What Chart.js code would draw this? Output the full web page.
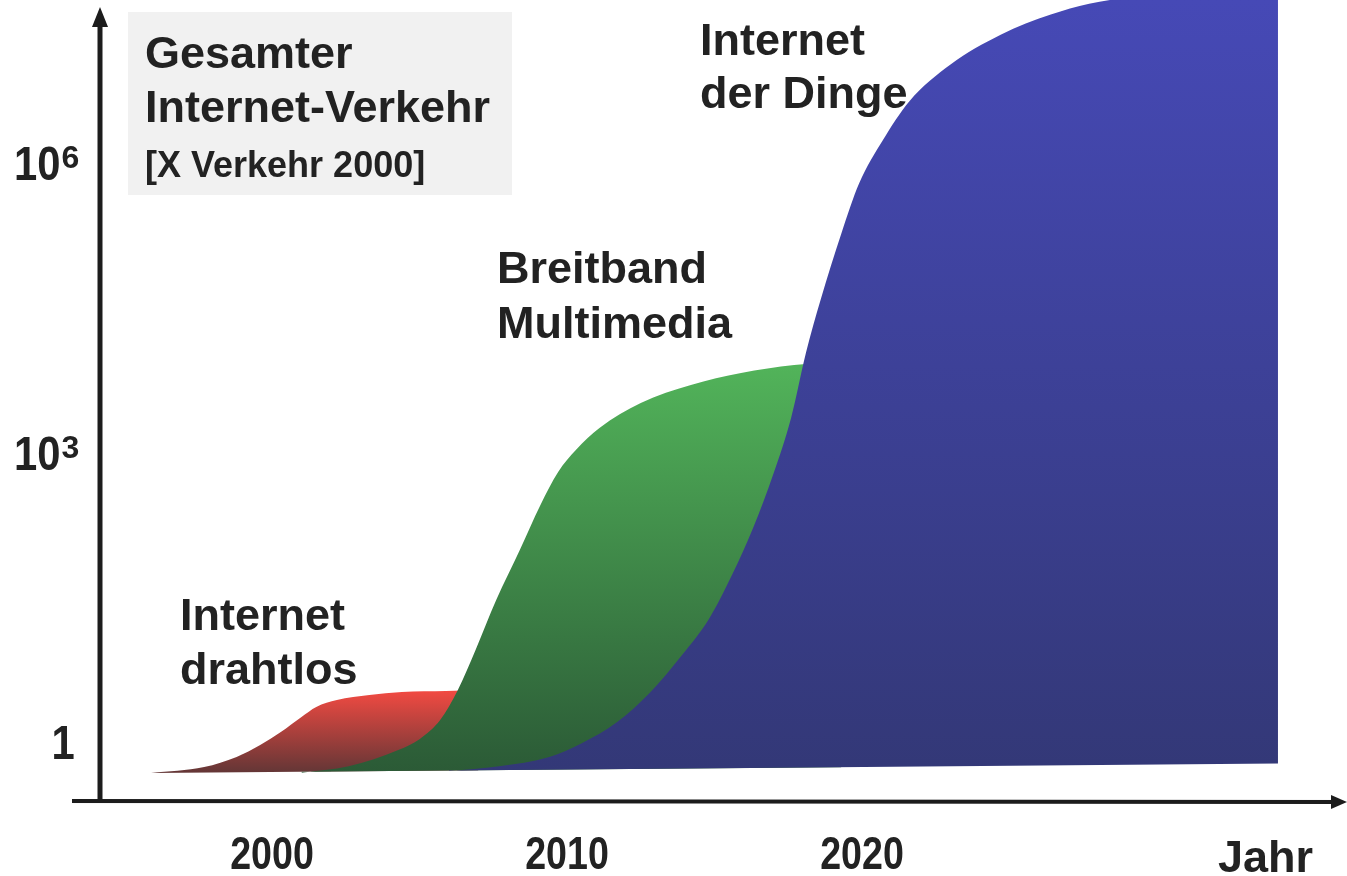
<!DOCTYPE html>
<html>
<head>
<meta charset="utf-8">
<script src="https://cdn.jsdelivr.net/npm/chart.js@4.4.1/dist/chart.umd.min.js"></script>
<style>
  html, body { margin: 0; padding: 0; background: #ffffff; }
  canvas { display: block; }
</style>
</head>
<body>
<canvas id="c" width="1347" height="876" style="width:1347px;height:876px"></canvas>
<script>
// ---------- data ----------
const xTickYears  = [2000, 2010, 2020];
const yTickValues = [1, 1000, 1000000];
const yTickBase   = ['1', '10', '10'];
const yTickExp    = ['', '3', '6'];
const baseValue   = 0.48;

// common floor of the three areas (rises slightly to the right)
const floorYears  = [1995.9, 2034.1];
const floorValues = [0.477, 0.60];

const redYears   = [1995.9, 1997.7, 1998.8, 1999.6, 2000.3, 2001.0, 2001.5, 2002.2, 2003.3, 2004.4, 2005.9, 2007.0];
const redValues  = [0.477, 0.55, 0.70, 0.93, 1.27, 1.82, 2.31, 2.72, 3.07, 3.30, 3.38, 3.46];

const greenYears  = [2001.0, 2002.6, 2004.3, 2005.0, 2005.7, 2006.3, 2006.9, 2007.6, 2008.4, 2009.1, 2009.7, 2010.3, 2011.1, 2012.5, 2014.2, 2015.9, 2017.7, 2019.3];
const greenValues = [0.48, 0.56, 0.83, 1.07, 1.69, 3.46, 9.0, 29.6, 97.7, 286, 628, 1060, 1795, 3260, 5010, 6670, 8070, 8670];

const blueYears  = [2006.0, 2007.7, 2009.4, 2010.5, 2011.7, 2012.8, 2013.9, 2014.8, 2015.6, 2016.3, 2017.0, 2017.6, 2018.1, 2018.6, 2019.3, 2019.9, 2020.7, 2021.6, 2023.0, 2024.7, 2026.4, 2027.7, 2029.8, 2034.1];
const blueValues = [0.50, 0.56, 0.70, 0.97, 1.61, 3.22, 7.97, 18.6, 54.4, 163, 606, 2310, 10800, 38500, 186000, 613000, 1.71e6, 4.35e6, 1.05e7, 2.14e7, 3.45e7, 4.46e7, 5.53e7, 6.45e7];

const seriesNames = ['Internet der Dinge', 'Breitband Multimedia', 'Internet drahtlos'];
const boxLines = ['Gesamter', 'Internet-Verkehr', '[X Verkehr 2000]'];
const xAxisName = 'Jahr';

// ---------- helpers ----------
const FONT = '"Liberation Sans", Arial, Helvetica, sans-serif';
const TXT = '#222222';

function pts(xs, ys) { return xs.map((x, i) => ({ x: x, y: ys[i] })); }

function vGrad(bottomColor, topColor, topValue) {
  return function (ctx) {
    const chart = ctx.chart;
    if (!chart.chartArea) return bottomColor;
    const ys = chart.scales.y;
    const y0 = ys.getPixelForValue(baseValue);
    let y1 = ys.getPixelForValue(topValue);
    if (y1 < chart.chartArea.top) y1 = chart.chartArea.top;
    const g = chart.ctx.createLinearGradient(0, y0, 0, y1);
    g.addColorStop(0, bottomColor);
    g.addColorStop(1, topColor);
    return g;
  };
}

const deco = {
  id: 'deco',
  beforeDraw(chart) {
    const c = chart.ctx;
    c.save();
    c.fillStyle = '#ffffff';
    c.fillRect(0, 0, chart.width, chart.height);
    c.fillStyle = '#f1f1f1';
    c.fillRect(128, 12, 384, 183);
    c.restore();
  },
  afterDraw(chart) {
    const c = chart.ctx;
    const xs = chart.scales.x, ys = chart.scales.y;
    const ax = xs.left;
    const ay = ys.bottom + 1;
    c.save();
    c.strokeStyle = '#1c1c1c';
    c.fillStyle = '#1c1c1c';
    // y axis with arrow
    c.lineWidth = 5;
    c.beginPath(); c.moveTo(ax, ay + 2); c.lineTo(ax, 22); c.stroke();
    c.beginPath(); c.moveTo(ax, 7); c.lineTo(ax - 8, 27); c.lineTo(ax + 8, 27); c.closePath(); c.fill();
    // x axis with arrow
    c.lineWidth = 4;
    c.beginPath(); c.moveTo(72, ay); c.lineTo(1334, ay + 1); c.stroke();
    c.beginPath(); c.moveTo(1347, ay + 1); c.lineTo(1331, ay - 6); c.lineTo(1331, ay + 8); c.closePath(); c.fill();

    c.fillStyle = TXT;
    c.textBaseline = 'alphabetic';

    // x tick labels (condensed bold digits)
    c.font = 'bold 47px ' + FONT;
    c.textAlign = 'center';
    xs.ticks.forEach(t => {
      const px = xs.getPixelForValue(t.value);
      c.save(); c.translate(px, 869); c.scale(0.8, 1);
      c.fillText(String(t.value), 0, 0);
      c.restore();
    });

    // y tick labels with superscript exponents
    ys.ticks.forEach(t => {
      const i = yTickValues.indexOf(t.value);
      if (i < 0) return;
      const py = ys.getPixelForValue(t.value);
      const base = py + 17;
      c.font = 'bold 48px ' + FONT;
      if (!yTickExp[i]) {
        c.textAlign = 'center';
        c.save(); c.translate(63, base); c.scale(0.87, 1);
        c.fillText(yTickBase[i], 0, 0);
        c.restore();
      } else {
        c.textAlign = 'left';
        c.save(); c.translate(14, base); c.scale(0.87, 1);
        c.fillText(yTickBase[i], 0, 0);
        const w = c.measureText(yTickBase[i]).width * 0.87;
        c.restore();
        c.font = 'bold 32px ' + FONT;
        c.fillText(yTickExp[i], 14 + w + 1, base - 12);
      }
    });

    // text annotations
    c.textAlign = 'left';
    c.font = 'bold 45px ' + FONT;
    c.fillText(boxLines[0], 145, 68);
    c.fillText(boxLines[1], 145, 122);
    c.font = 'bold 36px ' + FONT;
    c.fillText(boxLines[2], 145, 177);

    c.font = 'bold 45px ' + FONT;
    const iot = seriesNames[0].split(' ');
    c.fillText(iot[0], 700, 55);
    c.fillText(iot.slice(1).join(' '), 700, 108);
    const bb = seriesNames[1].split(' ');
    c.fillText(bb[0], 497, 283);
    c.fillText(bb[1], 497, 338);
    const wl = seriesNames[2].split(' ');
    c.fillText(wl[0], 180, 630);
    c.fillText(wl[1], 180, 684);
    c.fillText(xAxisName, 1218, 872);
    c.restore();
  }
};

new Chart(document.getElementById('c'), {
  type: 'line',
  data: {
    datasets: [
      {
        label: seriesNames[0],
        data: pts(blueYears, blueValues),
        fill: 3,
        backgroundColor: vGrad('#333877', '#4649b6', 4.89e7),
        borderWidth: 0,
        pointRadius: 0,
        cubicInterpolationMode: 'monotone'
      },
      {
        label: seriesNames[1],
        data: pts(greenYears, greenValues),
        fill: 3,
        backgroundColor: vGrad('#2b5a36', '#52b45a', 8500),
        borderWidth: 0,
        pointRadius: 0,
        cubicInterpolationMode: 'monotone'
      },
      {
        label: seriesNames[2],
        data: pts(redYears, redValues),
        fill: 3,
        backgroundColor: vGrad('#633636', '#f24a42', 3.4),
        borderWidth: 0,
        pointRadius: 0,
        cubicInterpolationMode: 'monotone'
      },
      {
        label: 'floor',
        data: pts(floorYears, floorValues),
        fill: false,
        borderWidth: 0,
        borderColor: 'rgba(0,0,0,0)',
        backgroundColor: 'rgba(0,0,0,0)',
        pointRadius: 0,
        tension: 0
      }
    ]
  },
  options: {
    responsive: false,
    animation: false,
    devicePixelRatio: 1,
    layout: { padding: 0 },
    plugins: { legend: { display: false }, tooltip: { enabled: false }, title: { display: false } },
    elements: { line: { borderWidth: 0 } },
    scales: {
      x: {
        type: 'linear',
        min: 1994.17,
        max: 2036.44,
        grid: { display: false, drawTicks: false },
        border: { display: false },
        afterBuildTicks(scale) { scale.ticks = xTickYears.map(v => ({ value: v })); },
        afterFit(scale) { scale.height = 76; scale.paddingLeft = 0; scale.paddingRight = 0; },
        ticks: { display: false, autoSkip: false }
      },
      y: {
        type: 'logarithmic',
        min: 0.2506,
        max: 4.89e7,
        grid: { display: false, drawTicks: false },
        border: { display: false },
        afterBuildTicks(scale) { scale.ticks = yTickValues.map(v => ({ value: v })); },
        afterFit(scale) { scale.width = 100; scale.paddingTop = 0; scale.paddingBottom = 0; },
        ticks: { display: false, autoSkip: false }
      }
    }
  },
  plugins: [deco]
});
</script>
</body>
</html>
